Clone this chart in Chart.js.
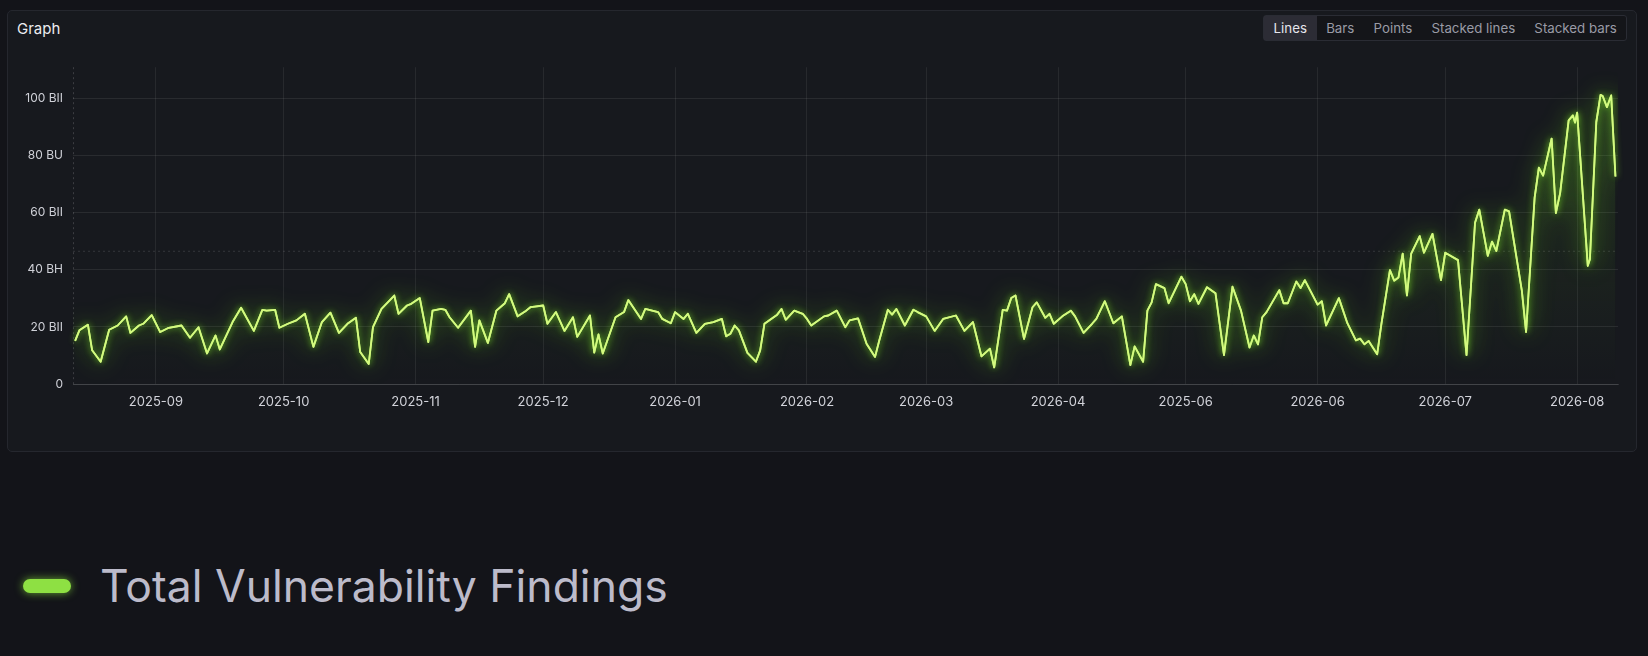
<!DOCTYPE html>
<html>
<head>
<meta charset="utf-8">
<script src="https://cdn.jsdelivr.net/npm/chart.js@4.4.1/dist/chart.umd.min.js"></script>
<style>
  html, body { margin: 0; padding: 0; }
  body { width: 1648px; height: 656px; background: #131419; font-family: Inter, "Noto Sans", sans-serif; position: relative; overflow: hidden; }
  .panel { position: absolute; left: 7px; top: 10px; width: 1628px; height: 440px; background: #17191e; border: 1px solid #25272e; border-radius: 5px; }
  .title { position: absolute; left: 17px; top: 19px; font-size: 15px; font-weight: 400; color: #ececf0; }
  .modes { position: absolute; left: 1263px; top: 15px; height: 24px; display: flex; border: 1px solid #2a2c34; border-radius: 3px; background: #141519; }
  .modes span { font-size: 13.3px; color: #9a9ba6; padding: 0 9.6px; line-height: 24px; }
  .modes span.on { background: #2c2c35; color: #e6e6ec; }
  .wrap { position: absolute; left: 8px; top: 50px; width: 1625px; height: 380px; }
  .legend { position: absolute; left: 23px; top: 564px; height: 44px; display: flex; align-items: center; }
  .legend i { display: block; width: 48px; height: 14px; border-radius: 7px; background: #8ee043; box-shadow: 0 0 8px rgba(140, 230, 60, 0.7); }
  .legend b { font-weight: 400; font-size: 44.5px; color: #bcbbca; margin-left: 29px; }
</style>
</head>
<body>
<div class="panel"></div>
<div class="title">Graph</div>
<div class="modes"><span class="on">Lines</span><span>Bars</span><span>Points</span><span>Stacked lines</span><span>Stacked bars</span></div>
<div class="wrap"><canvas id="graph"></canvas></div>
<div class="legend" id="legend"></div>
<script>
// days counted from startDate
const startDate = '2025-08-01';
const dayOffsets = [
  12, 13, 15, 16, 18, 20, 22, 24, 25, 27, 28, 30, 32, 34, 37, 39, 41, 43, 45, 46,
  49, 51, 54, 56, 57, 59, 60, 62, 64, 66, 68, 70, 72, 74, 76, 78, 79, 81, 82, 84,
  87, 88, 90, 91, 93, 95, 96, 98, 99, 100, 102, 105, 106, 107, 109, 111, 113, 114, 116, 118,
  119, 120, 122, 123, 125, 127, 129, 130, 133, 134, 135, 136, 139, 141, 142, 145, 146, 149, 150, 152,
  153, 155, 156, 158, 160, 162, 164, 165, 166, 167, 168, 170, 172, 173, 174, 177, 178, 179, 181, 183,
  184, 185, 188, 189, 191, 193, 194, 196, 198, 200, 201, 203, 204, 205, 207, 209, 210, 212, 214, 216,
  219, 221, 223, 225, 227, 228, 230, 231, 232, 233, 235, 237, 238, 240, 241, 242, 244, 246, 247, 249,
  251, 252, 254, 256, 258, 260, 261, 263, 264, 265, 266, 268, 269, 272, 273, 274, 275, 276, 278, 280,
  282, 284, 286, 288, 289, 290, 291, 292, 295, 296, 297, 299, 300, 301, 304, 305, 306, 309, 311, 313,
  314, 315, 316, 318, 319, 321, 322, 323, 324, 325, 326, 328, 329, 331, 333, 334, 337, 339, 341, 342,
  344, 345, 346, 348, 349, 352, 353, 355, 356, 357, 359, 360, 361, 363, 364, 364.5, 365, 367.5, 368, 369.5,
  370.5, 371, 372, 373, 374
];
const findings = [
  15.1, 18.8, 20.8, 11.8, 7.8, 19.0, 20.5, 23.7, 17.9, 20.5, 21.1, 24.1, 18.2, 19.7, 20.5, 16.2, 19.9, 10.7, 17.0, 12.1,
  21.7, 26.7, 18.6, 26.0, 25.7, 26.0, 19.7, 21.1, 22.3, 24.6, 13.0, 21.7, 25.0, 17.9, 21.1, 23.2, 11.2, 7.0, 19.9, 26.3,
  31.0, 24.6, 27.5, 28.1, 30.1, 14.7, 25.7, 26.3, 26.0, 23.4, 19.7, 25.7, 13.0, 22.3, 14.4, 25.7, 28.3, 31.5, 23.7, 25.7,
  26.9, 27.1, 27.5, 21.1, 25.2, 18.6, 23.4, 16.5, 24.0, 11.0, 17.4, 10.7, 23.4, 25.2, 29.4, 22.8, 26.3, 25.2, 22.8, 21.3,
  25.2, 22.8, 24.6, 17.9, 21.1, 21.7, 22.8, 16.7, 17.6, 20.5, 18.8, 10.9, 7.8, 11.8, 21.1, 24.3, 26.3, 22.5, 25.7, 24.6,
  22.8, 20.5, 23.7, 24.0, 25.7, 19.9, 22.3, 23.0, 14.1, 9.5, 15.3, 26.0, 24.3, 26.3, 20.5, 26.0, 25.2, 23.7, 18.6, 22.8,
  24.0, 18.6, 21.7, 9.7, 12.4, 5.8, 26.0, 25.7, 30.1, 31.0, 15.8, 26.9, 28.6, 23.2, 24.6, 21.1, 23.7, 25.7, 23.7, 17.9,
  21.1, 22.8, 29.0, 21.3, 23.7, 6.6, 13.2, 7.8, 25.7, 28.6, 35.0, 33.6, 28.3, 37.6, 35.0, 29.0, 31.5, 28.1, 33.9, 31.8,
  10.1, 34.1, 25.7, 12.8, 17.0, 13.9, 23.4, 25.2, 32.9, 28.3, 28.3, 35.9, 33.6, 36.4, 27.8, 29.0, 20.5, 30.1, 21.3, 15.3,
  15.9, 13.9, 15.1, 10.4, 21.1, 39.9, 36.2, 37.3, 45.7, 31.0, 45.7, 51.8, 46.0, 52.6, 36.4, 46.0, 43.4, 10.1, 56.5, 61.1,
  44.9, 49.9, 46.6, 61.1, 60.5, 32.7, 18.2, 65.2, 75.8, 73.0, 86.0, 59.9, 66.9, 92.4, 94.1, 91.6, 95.1, 41.4, 43.7, 91.8,
  101.3, 100.9, 97.0, 101.1, 72.7
];
const monthStarts = ['2025-09-01', '2025-10-01', '2025-11-01', '2025-12-01', '2026-01-01', '2026-02-01',
  '2026-03-01', '2026-04-01', '2026-05-01', '2026-06-01', '2026-07-01', '2026-08-01'];
const monthLabels = ['2025-09', '2025-10', '2025-11', '2025-12', '2026-01', '2026-02',
  '2026-03', '2026-04', '2025-06', '2026-06', '2026-07', '2026-08'];
const yTickValues = [0, 20, 40, 60, 80, 100];
const yTickLabels = ['0', '20 BII', '40 BH', '60 BII', '80 BU', '100 BII'];
const referenceLevel = [46.5];
const seriesName = 'Total Vulnerability Findings';

const dayOf = s => (Date.parse(s) - Date.parse(startDate)) / 86400000;
const xMin = 11.5, xMax = 374.6;

// neon glow: wide soft halo, then a tighter one on a second pass
const glowPlugin = {
  id: 'glow',
  beforeDatasetDraw(chart, args) {
    if (args.index !== 0) return;
    const c = chart.ctx;
    c.save();
    c.shadowColor = 'rgba(110, 225, 25, 0.9)';
    c.shadowBlur = 22;
  },
  afterDatasetDraw(chart, args) {
    if (args.index !== 0) return;
    const c = chart.ctx;
    c.shadowColor = 'rgba(130, 235, 40, 0.9)';
    c.shadowBlur = 6;
    args.meta.dataset.draw(c, chart.chartArea);
    c.restore();
  }
};

// dotted line along the left edge of the plot
const leftEdge = {
  id: 'leftEdge',
  beforeDatasetsDraw(chart) {
    const { ctx: c, chartArea: a } = chart;
    c.save();
    c.strokeStyle = 'rgba(255, 255, 255, 0.16)';
    c.lineWidth = 1;
    c.setLineDash([2, 3]);
    c.beginPath();
    c.moveTo(a.left + 0.5, a.top);
    c.lineTo(a.left + 0.5, a.bottom);
    c.stroke();
    c.restore();
  }
};

const ctx = document.getElementById('graph').getContext('2d');
const chart = new Chart(ctx, {
  type: 'line',
  data: {
    datasets: [{
      label: seriesName,
      data: dayOffsets.map((d, i) => ({ x: d, y: findings[i] })),
      borderColor: '#d4fa80',
      borderWidth: 1.8,
      pointRadius: 0,
      tension: 0,
      borderJoinStyle: 'round',
      fill: 'origin',
      backgroundColor: (c) => {
        const area = c.chart.chartArea;
        if (!area) return 'transparent';
        const g = c.chart.ctx.createLinearGradient(0, area.top, 0, area.bottom);
        g.addColorStop(0, 'rgba(120, 220, 50, 0.17)');
        g.addColorStop(0.6, 'rgba(120, 220, 50, 0.05)');
        g.addColorStop(1, 'rgba(120, 220, 50, 0.0)');
        return g;
      }
    }, {
      label: 'reference',
      data: [{ x: xMin, y: referenceLevel[0] }, { x: xMax, y: referenceLevel[0] }],
      borderColor: 'rgba(255, 255, 255, 0.13)',
      borderWidth: 1,
      borderDash: [2, 3],
      pointRadius: 0,
      fill: false
    }]
  },
  options: {
    responsive: true,
    maintainAspectRatio: false,
    animation: false,
    layout: { padding: { top: 15, right: 15, left: 0, bottom: 0 } },
    plugins: { legend: { display: false }, tooltip: { enabled: false } },
    scales: {
      x: {
        type: 'linear',
        min: xMin,
        max: xMax,
        afterBuildTicks: (scale) => { scale.ticks = monthStarts.map(s => ({ value: dayOf(s) })); },
        afterFit: (scale) => { scale.height = 46; },
        ticks: {
          autoSkip: false,
          maxRotation: 0,
          padding: 10,
          color: '#d2d3da',
          font: { family: 'Inter', size: 13 },
          callback: (v, i) => monthLabels[i]
        },
        grid: { color: 'rgba(255, 255, 255, 0.07)', drawTicks: false },
        border: { color: 'rgba(255, 255, 255, 0.12)' }
      },
      y: {
        min: 0,
        max: 111,
        afterBuildTicks: (scale) => { scale.ticks = yTickValues.map(v => ({ value: v })); },
        afterFit: (scale) => { scale.width = 65; },
        ticks: {
          padding: 10,
          color: '#cfd0d7',
          font: { family: 'Inter', size: 12 },
          callback: (v, i) => yTickLabels[i]
        },
        grid: { color: 'rgba(255, 255, 255, 0.08)', drawTicks: false },
        border: { display: false }
      }
    }
  },
  plugins: [leftEdge, glowPlugin]
});

// legend outside the panel, built from the first dataset
document.getElementById('legend').innerHTML =
  `<i></i><b>${chart.data.datasets[0].label}</b>`;
</script>
</body>
</html>
